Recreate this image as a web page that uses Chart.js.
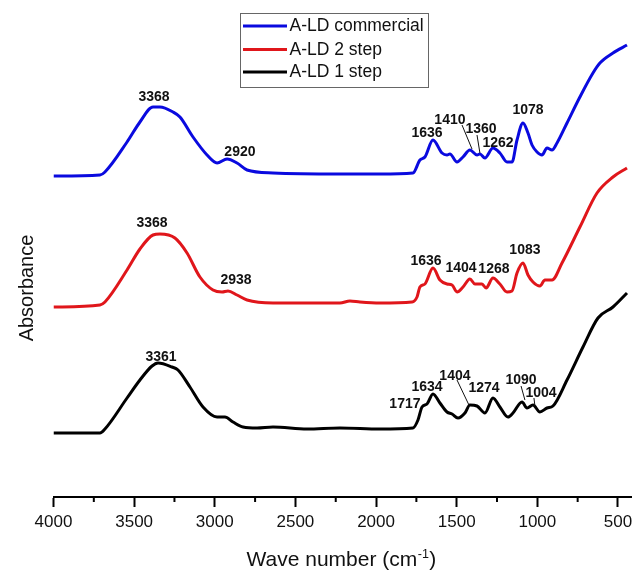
<!DOCTYPE html>
<html>
<head>
  <meta charset="UTF-8" />
  <title>FTIR spectra A-LD</title>
  <script src="https://cdn.jsdelivr.net/npm/chart.js"></script>
  <style>
    body {
      margin: 0;
      background: #fff;
      font-family: 'Liberation Sans', Arial, sans-serif;
    }
    .wrap {
      width: 632px;
      height: 572px;
      position: relative;
    }
  </style>
</head>
<body>
  <div class="wrap"><canvas id="ftirChart"></canvas></div>

  <script>
    // series names (legend order)
    const seriesNames = ['A-LD commercial', 'A-LD 2 step', 'A-LD 1 step'];
    const seriesColors = ['#0a0adf', '#e0161b', '#000000'];

    // x tick labels (wave number, cm-1)
    const xTickValues = [4000, 3500, 3000, 2500, 2000, 1500, 1000, 500];
    const xMinorTicks = [3750, 3250, 2750, 2250, 1750, 1250, 750];

    // A-LD commercial (absorbance, a.u., stacked offset as plotted)
    const waveCommercial = [4000, 3712, 3681, 3544, 3464, 3383, 3340, 3259, 3216, 3135, 3048, 2986, 2924, 2862, 2800, 2639, 2224, 1976,
      1771, 1728, 1697, 1647, 1591, 1560, 1542, 1498, 1461, 1418, 1374, 1356, 1325, 1275, 1232, 1188, 1157, 1126, 1089, 1058, 1033,
      1002, 971, 940, 909, 878, 816, 736, 655, 612, 531, 444];
    const absCommercial = [3.21, 3.22, 3.25, 3.55, 3.75, 3.90, 3.90, 3.85, 3.80, 3.60, 3.42, 3.34, 3.38, 3.34, 3.27, 3.24, 3.23, 3.23,
      3.24, 3.37, 3.40, 3.57, 3.44, 3.42, 3.43, 3.35, 3.40, 3.47, 3.42, 3.43, 3.39, 3.49, 3.44, 3.35, 3.35, 3.57, 3.74, 3.64, 3.52,
      3.45, 3.42, 3.49, 3.47, 3.54, 3.74, 4.00, 4.24, 4.34, 4.44, 4.52];

    // A-LD 2 step
    const waveTwoStep = [4000, 3712, 3681, 3544, 3464, 3383, 3340, 3247, 3172, 3092, 3011, 2955, 2918, 2862, 2800, 2639, 2224, 2162, 2100, 1976,
      1777, 1746, 1728, 1697, 1647, 1604, 1560, 1529, 1498, 1461, 1418, 1387, 1343, 1318, 1275, 1232, 1188, 1157, 1126, 1089, 1058,
      1027, 984, 953, 909, 847, 736, 630, 531, 444];
    const absTwoStep = [1.90, 1.92, 1.95, 2.27, 2.48, 2.62, 2.63, 2.59, 2.44, 2.20, 2.07, 2.05, 2.06, 2.02, 1.97, 1.94, 1.94, 1.96, 1.95, 1.94,
      1.95, 2.00, 2.10, 2.13, 2.29, 2.17, 2.13, 2.12, 2.05, 2.10, 2.18, 2.13, 2.13, 2.09, 2.19, 2.13, 2.05, 2.06, 2.24, 2.34, 2.22,
      2.15, 2.11, 2.17, 2.17, 2.34, 2.70, 3.04, 3.20, 3.29];

    // A-LD 1 step
    const waveOneStep = [4000, 3712, 3681, 3544, 3464, 3389, 3352, 3265, 3228, 3154, 3073, 2986, 2937, 2887, 2825, 2738, 2639, 2428, 2224, 1976,
      1771, 1740, 1715, 1684, 1647, 1604, 1560, 1529, 1492, 1449, 1418, 1374, 1325, 1275, 1232, 1182, 1151, 1095, 1064, 1027,
      984, 940, 903, 816, 717, 624, 531, 444];
    const absOneStep = [0.64, 0.64, 0.68, 0.99, 1.17, 1.31, 1.34, 1.30, 1.27, 1.10, 0.90, 0.80, 0.80, 0.75, 0.70, 0.69, 0.70, 0.68, 0.69, 0.68,
      0.69, 0.77, 0.90, 0.93, 1.03, 0.94, 0.85, 0.83, 0.79, 0.84, 0.92, 0.91, 0.84, 0.99, 0.90, 0.80, 0.84, 0.95, 0.89, 0.92,
      0.85, 0.89, 0.91, 1.17, 1.50, 1.79, 1.90, 2.04];

    // peak labels: [text, wave number, absorbance] (text centre)
    const peaksCommercial = [['3368', 3377, 4.00], ['2920', 2844, 3.45], ['1636', 1684, 3.64], ['1410', 1542, 3.77],
      ['1360', 1349, 3.675], ['1262', 1244, 3.54], ['1078', 1058, 3.87]];
    const peaksTwoStep = [['3368', 3389, 2.74], ['2938', 2868, 2.17], ['1636', 1690, 2.36], ['1404', 1473, 2.29],
      ['1268', 1269, 2.28], ['1083', 1077, 2.47]];
    const peaksOneStep = [['3361', 3333, 1.40], ['1717', 1821, 0.93], ['1634', 1684, 1.10], ['1404', 1511, 1.21],
      ['1274', 1331, 1.09], ['1090', 1101, 1.17], ['1004', 977, 1.04]];
    // leader lines: [w1, a1, w2, a2]
    const leaderLines = [[1467, 3.72, 1405, 3.48], [1374, 3.62, 1356, 3.44],
      [1498, 1.17, 1424, 0.92], [1101, 1.11, 1077, 0.97], [1021, 0.99, 1015, 0.91]];

    const toPoints = (w, a) => w.map((v, i) => ({ x: v, y: a[i] }));
    const seriesData = [toPoints(waveCommercial, absCommercial), toPoints(waveTwoStep, absTwoStep), toPoints(waveOneStep, absOneStep)];

    const FONT = "'Liberation Sans', Arial, sans-serif";

    const extras = {
      id: 'extras',
      afterDraw(chart) {
        const ctx = chart.ctx, xs = chart.scales.x, ys = chart.scales.y, area = chart.chartArea;
        ctx.save();

        // minor ticks
        ctx.strokeStyle = '#000';
        ctx.lineWidth = 2;
        xMinorTicks.forEach(v => {
          const px = xs.getPixelForValue(v);
          ctx.beginPath();
          ctx.moveTo(px, area.bottom);
          ctx.lineTo(px, area.bottom + 5);
          ctx.stroke();
        });

        // leader lines
        ctx.lineWidth = 1;
        ctx.strokeStyle = '#111';
        leaderLines.forEach(l => {
          ctx.beginPath();
          ctx.moveTo(xs.getPixelForValue(l[0]), ys.getPixelForValue(l[1]));
          ctx.lineTo(xs.getPixelForValue(l[2]), ys.getPixelForValue(l[3]));
          ctx.stroke();
        });

        // peak labels
        ctx.fillStyle = '#111';
        ctx.font = 'bold 14px ' + FONT;
        ctx.textAlign = 'center';
        ctx.textBaseline = 'middle';
        [peaksCommercial, peaksTwoStep, peaksOneStep].forEach(list => {
          list.forEach(p => ctx.fillText(p[0], xs.getPixelForValue(p[1]), ys.getPixelForValue(p[2])));
        });

        // legend
        const lx = 240.5, ly = 13.5, lw = 188, lh = 74;
        ctx.strokeStyle = '#666';
        ctx.lineWidth = 1;
        ctx.strokeRect(lx, ly, lw, lh);
        ctx.font = '17.5px ' + FONT;
        ctx.textAlign = 'left';
        ctx.textBaseline = 'middle';
        const rows = [26, 49.5, 72];
        chart.data.datasets.forEach((ds, i) => {
          ctx.strokeStyle = ds.borderColor;
          ctx.lineWidth = 3;
          ctx.beginPath();
          ctx.moveTo(243, rows[i]);
          ctx.lineTo(287, rows[i]);
          ctx.stroke();
          ctx.fillStyle = '#111';
          ctx.fillText(ds.label, 289.5, rows[i] + 0.5);
        });

        // x title with superscript
        const main = 'Wave number (cm', sup = '-1', close = ')';
        ctx.fillStyle = '#111';
        ctx.textBaseline = 'alphabetic';
        ctx.font = '21px ' + FONT;
        const w1 = ctx.measureText(main).width, w3 = ctx.measureText(close).width;
        ctx.font = '12.5px ' + FONT;
        const w2 = ctx.measureText(sup).width;
        let tx = 246.5;
        const ty = 566;
        ctx.font = '21px ' + FONT;
        ctx.fillText(main, tx, ty);
        ctx.font = '12.5px ' + FONT;
        ctx.fillText(sup, tx + w1 + 0.5, ty - 8);
        ctx.font = '21px ' + FONT;
        ctx.fillText(close, tx + w1 + w2 + 1, ty);

        // y title
        ctx.translate(33, 288);
        ctx.rotate(-Math.PI / 2);
        ctx.textAlign = 'center';
        ctx.font = '20px ' + FONT;
        ctx.fillText('Absorbance', 0, 0);

        ctx.restore();
      }
    };

    new Chart(document.getElementById('ftirChart'), {
      type: 'line',
      data: {
        datasets: seriesNames.map((name, i) => ({
          label: name,
          data: seriesData[i],
          borderColor: seriesColors[i],
          backgroundColor: seriesColors[i],
          borderWidth: 3,
          pointRadius: 0,
          fill: false,
          cubicInterpolationMode: 'monotone'
        }))
      },
      options: {
        responsive: true,
        maintainAspectRatio: false,
        animation: false,
        layout: { padding: { left: 53.5, right: 0, top: 0, bottom: 34.6 } },
        plugins: { legend: { display: false }, tooltip: { enabled: false } },
        scales: {
          x: {
            type: 'linear',
            reverse: true,
            min: 413,
            max: 4000,
            afterBuildTicks: axis => { axis.ticks = xTickValues.map(v => ({ value: v })); },
            afterFit: axis => { axis.paddingRight = 0; axis.paddingLeft = 0; },
            ticks: {
              autoSkip: false,
              maxRotation: 0,
              padding: 5,
              color: '#111',
              font: { family: FONT, size: 17 },
              callback: v => String(v)
            },
            grid: { display: true, drawOnChartArea: false, drawTicks: true, tickLength: 10, tickWidth: 2, tickColor: '#000' },
            border: { display: true, color: '#000', width: 2 }
          },
          y: {
            display: false,
            min: 0,
            max: 4.97
          }
        }
      },
      plugins: [extras]
    });
  </script>
</body>
</html>
